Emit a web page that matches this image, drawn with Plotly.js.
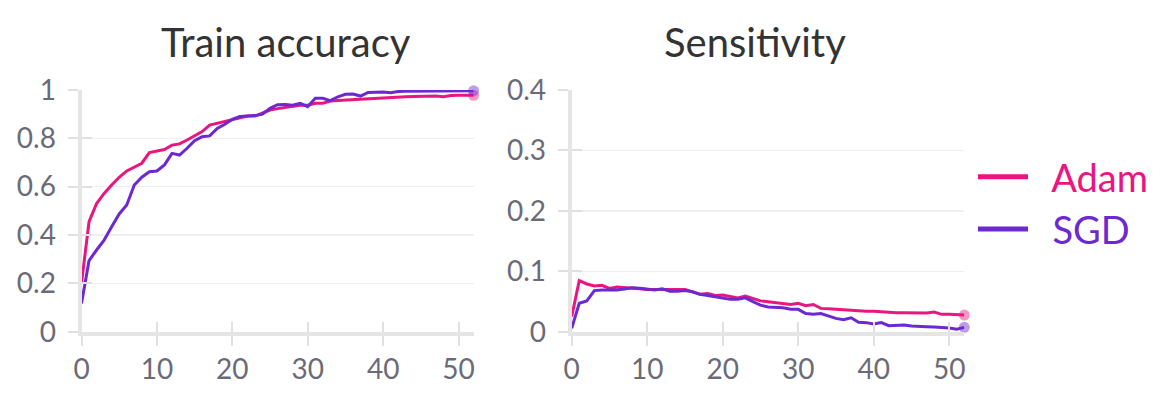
<!DOCTYPE html>
<html>
<head>
<meta charset="utf-8">
<script src="https://cdn.plot.ly/plotly-3.0.1.min.js"></script>
<style>html,body{margin:0;padding:0;background:#fff;}#chart{width:1163px;height:410px;}</style>
</head>
<body>
<div id="chart"></div>
<script>
// ---- data ----
const epochs = [0,1,2,3,4,5,6,7,8,9,10,11,12,13,14,15,16,17,18,19,20,21,22,23,24,25,26,27,28,29,30,31,32,33,34,35,36,37,38,39,40,41,42,43,44,45,46,47,48,49,50,51,52];
const seriesNames = ['Adam', 'SGD'];
const trainAccAdam = [0.20,0.455,0.53,0.572,0.607,0.639,0.665,0.68,0.697,0.741,0.748,0.754,0.772,0.777,0.793,0.81,0.828,0.855,0.862,0.869,0.876,0.883,0.892,0.892,0.903,0.917,0.923,0.928,0.934,0.937,0.937,0.945,0.945,0.954,0.957,0.959,0.96,0.961,0.964,0.967,0.968,0.970,0.971,0.972,0.973,0.974,0.975,0.975,0.972,0.977,0.978,0.978,0.978];
const trainAccSGD = [0.117,0.294,0.338,0.379,0.434,0.487,0.524,0.607,0.639,0.662,0.665,0.69,0.738,0.731,0.759,0.79,0.807,0.81,0.841,0.858,0.879,0.89,0.892,0.894,0.90,0.924,0.939,0.94,0.937,0.945,0.931,0.966,0.966,0.956,0.972,0.982,0.983,0.975,0.99,0.992,0.992,0.989,0.994,0.995,0.995,0.996,0.997,0.997,0.997,0.998,0.998,0.998,0.997];
const sensAdam = [0.025,0.0844,0.079,0.0756,0.0767,0.0717,0.074,0.0734,0.0728,0.071,0.070,0.070,0.069,0.0695,0.070,0.070,0.066,0.062,0.063,0.060,0.0607,0.058,0.056,0.059,0.055,0.051,0.0497,0.048,0.047,0.045,0.047,0.043,0.045,0.0386,0.038,0.037,0.037,0.0359,0.0348,0.0337,0.0337,0.0326,0.032,0.0315,0.0315,0.031,0.031,0.031,0.0326,0.0287,0.0287,0.028,0.0276];
const sensSGD = [0.0055,0.047,0.051,0.068,0.069,0.069,0.069,0.0706,0.0728,0.072,0.071,0.069,0.071,0.067,0.0668,0.068,0.066,0.0618,0.060,0.058,0.055,0.0535,0.0535,0.056,0.0497,0.044,0.041,0.0408,0.0397,0.037,0.037,0.030,0.0287,0.030,0.026,0.022,0.020,0.023,0.0155,0.015,0.0127,0.015,0.010,0.010,0.011,0.0094,0.0083,0.0083,0.0077,0.0072,0.006,0.004,0.0072];
const panelTitles = ['Train accuracy', 'Sensitivity'];
const xTicks = [0,10,20,30,40,50];
const accTicks = [0,0.2,0.4,0.6,0.8,1];
const accTickText = ['0','0.2','0.4','0.6','0.8','1'];
const sensTicks = [0,0.1,0.2,0.3,0.4];
const sensTickText = ['0','0.1','0.2','0.3','0.4'];

// ---- style ----
const colors = ['#ea167f', '#6c29d2'];
const FONT = 'Lato, "Open Sans", sans-serif';
const endSizes = epochs.map((_, i) => i === epochs.length - 1 ? 11 : 0);

function trace(x, y, k, xa, ya) {
  return {
    x: x, y: y, xaxis: xa, yaxis: ya, type: 'scatter', mode: 'lines+markers',
    name: seriesNames[k], showlegend: false,
    line: {color: colors[k], width: 3},
    marker: {size: endSizes, color: colors[k], opacity: 0.45, line: {width: 0}},
    cliponaxis: false, hoverinfo: 'x+y'
  };
}
function legendEntry(k) {
  return {
    x: [null], y: [null], xaxis: 'x', yaxis: 'y', type: 'scatter', mode: 'lines',
    name: '<span style="color:' + colors[k] + '">\u00A0\u00A0' + seriesNames[k] + '</span>',
    showlegend: true, line: {color: colors[k], width: 5}, hoverinfo: 'skip'
  };
}
const data = [
  trace(epochs, trainAccAdam, 0, 'x', 'y'),
  trace(epochs, trainAccSGD, 1, 'x', 'y'),
  trace(epochs, sensAdam, 0, 'x2', 'y2'),
  trace(epochs, sensSGD, 1, 'x2', 'y2'),
  legendEntry(0),
  legendEntry(1)
];

const W = 1163, H = 410;
const xdomL = [81.5 / W, 473.6 / W];
const xdomR = [571.7 / W, 964.3 / W];
const ydom = [(H - 331.7) / H, (H - 90) / H];
const xr = [0, 52];
const tickFont = {family: FONT, size: 28, color: '#6b6b78'};

function xaxis(dom, anchor, overlay) {
  return {
    domain: dom, range: xr, anchor: anchor, tickvals: xTicks, ticktext: xTicks.map(String),
    showgrid: false, zeroline: false, showline: !overlay, linecolor: '#e5e5e5', linewidth: 4,
    ticks: overlay ? 'inside' : 'outside', ticklen: 10, tickwidth: 2, tickcolor: '#e0e0e0',
    showticklabels: !overlay, tickfont: tickFont, fixedrange: true
  };
}
function yaxis(anchor, range, vals, text, overlay) {
  return {
    domain: ydom, range: range, anchor: anchor, tickvals: vals, ticktext: text,
    showgrid: !overlay, gridcolor: '#efefef', gridwidth: 1.5, zeroline: false,
    showline: !overlay, linecolor: '#e5e5e5', linewidth: 4,
    ticks: overlay ? 'inside' : 'outside', ticklen: 10, tickwidth: 2, tickcolor: '#e0e0e0',
    showticklabels: !overlay, tickfont: tickFont, ticklabelstandoff: 6, fixedrange: true
  };
}

const layout = {
  width: W, height: H,
  margin: {l: 0, r: 0, t: 0, b: 0, pad: 0},
  paper_bgcolor: '#ffffff', plot_bgcolor: 'rgba(0,0,0,0)',
  font: {family: FONT, color: '#333'},
  showlegend: true,
  legend: {
    x: 973 / W, xanchor: 'left', y: (H - 203) / H, yanchor: 'middle',
    font: {family: FONT, size: 38},
    itemwidth: 50, tracegroupgap: 0, bgcolor: 'rgba(0,0,0,0)'
  },
  xaxis: xaxis(xdomL, 'y', false),
  yaxis: yaxis('x', [0, 1], accTicks, accTickText, false),
  xaxis2: xaxis(xdomR, 'y2', false),
  yaxis2: yaxis('x2', [0, 0.4], sensTicks, sensTickText, false),
  xaxis3: Object.assign(xaxis(xdomL, 'y', true), {overlaying: 'x'}),
  yaxis3: Object.assign(yaxis('x', [0, 1], accTicks, accTickText, true), {overlaying: 'y'}),
  xaxis4: Object.assign(xaxis(xdomR, 'y2', true), {overlaying: 'x2'}),
  yaxis4: Object.assign(yaxis('x2', [0, 0.4], sensTicks, sensTickText, true), {overlaying: 'y2'}),
  annotations: [
    {text: panelTitles[0], xref: 'paper', yref: 'paper', x: 285.5 / W, y: (H - 42) / H, xanchor: 'center', yanchor: 'middle', showarrow: false, font: {family: FONT, size: 40, color: '#333333'}},
    {text: panelTitles[1], xref: 'paper', yref: 'paper', x: 754.5 / W, y: (H - 42) / H, xanchor: 'center', yanchor: 'middle', showarrow: false, font: {family: FONT, size: 40, color: '#333333'}}
  ]
};
// empty traces to activate the overlay tick axes
data.push({x: [], y: [], xaxis: 'x3', yaxis: 'y3', showlegend: false, hoverinfo: 'skip'});
data.push({x: [], y: [], xaxis: 'x4', yaxis: 'y4', showlegend: false, hoverinfo: 'skip'});

Plotly.newPlot('chart', data, layout, {displayModeBar: false, staticPlot: true});
</script>
</body>
</html>
